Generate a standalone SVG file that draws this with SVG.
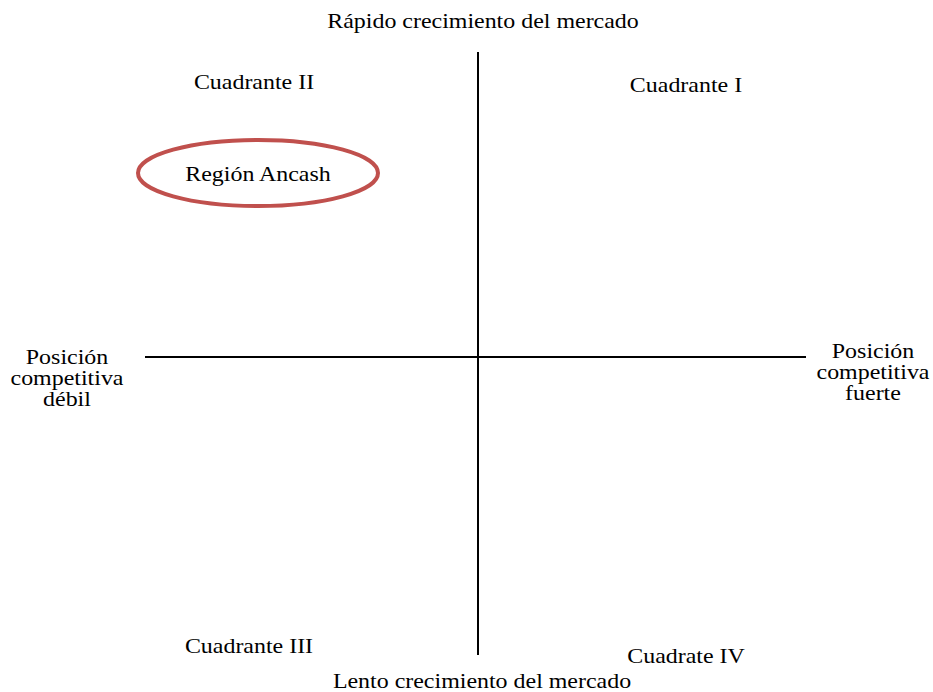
<svg xmlns="http://www.w3.org/2000/svg" width="933" height="692" viewBox="0 0 933 692">
<style>
text{font-family:"Liberation Serif","Times New Roman",serif;font-size:21px;fill:#000;text-anchor:middle}
.ax{stroke:#000;stroke-width:2;fill:none}
</style>
<rect width="933" height="692" fill="#fff"/>
<g id="connectors">
<line class="ax" x1="478" y1="52" x2="478" y2="655"/>
<line class="ax" x1="145" y1="357" x2="806" y2="357"/>
</g>
<g id="top-label" transform="translate(483,0) scale(1.14,1)"><text x="0" y="28">Rápido crecimiento del mercado</text></g>
<g id="bottom-label" transform="translate(482,0) scale(1.14,1)"><text x="0" y="688">Lento crecimiento del mercado</text></g>
<g id="left-label" transform="translate(67,0) scale(1.14,1)"><text x="0" y="364">Posición</text><text x="0" y="385">competitiva</text><text x="0" y="406">débil</text></g>
<g id="right-label" transform="translate(873,0) scale(1.14,1)"><text x="0" y="358">Posición</text><text x="0" y="379">competitiva</text><text x="0" y="400">fuerte</text></g>
<g id="q2" transform="translate(254,0) scale(1.14,1)"><text x="0" y="89">Cuadrante II</text></g>
<g id="q1" transform="translate(686,0) scale(1.14,1)"><text x="0" y="92">Cuadrante I</text></g>
<g id="q3" transform="translate(249,0) scale(1.14,1)"><text x="0" y="653">Cuadrante III</text></g>
<g id="q4" transform="translate(686,0) scale(1.14,1)"><text x="0" y="663">Cuadrate IV</text></g>
<g id="region"><ellipse cx="258" cy="173" rx="120" ry="33" fill="none" stroke="#C0504D" stroke-width="4"/><g transform="translate(258,0) scale(1.14,1)"><text x="0" y="181">Región Ancash</text></g></g>
</svg>
